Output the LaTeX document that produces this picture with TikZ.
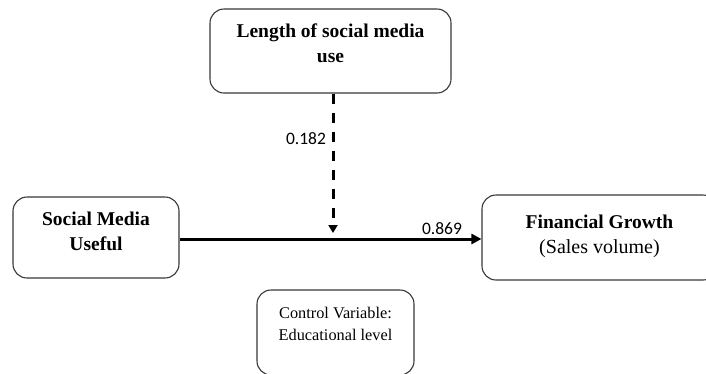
\documentclass[tikz,border=0pt]{standalone}
\usepackage{fontspec}
\setmainfont{Liberation Serif}
\newfontfamily\calib{Carlito}
\usetikzlibrary{arrows.meta}

\tikzset{
  varbox/.style={draw=black!78, line width=1.1pt, rounded corners=14pt,
    inner sep=0pt, fill=white},
  boxtext/.style={inner sep=0pt, anchor=north, align=center,
    font=\fontsize{19.5}{25.5}\selectfont\bfseries},
  smalltext/.style={inner sep=0pt, anchor=north, align=center,
    font=\fontsize{16.3}{22}\selectfont},
  coef/.style={inner sep=0pt, font=\calib\fontsize{17.5}{20}\selectfont},
  mainarrow/.style={line width=3pt, -{Triangle[length=10pt,width=10pt]}},
  modarrow/.style={line width=3pt, dash pattern=on 10pt off 9pt,
    -{Triangle[length=8pt,width=9pt]}}
}

\begin{document}
\begin{tikzpicture}[x=1pt, y=-1pt]
  \useasboundingbox (0,0) rectangle (706,373);
  \clip (0,0) rectangle (706,373);

  % variable boxes
  \node[varbox, minimum width=241pt, minimum height=84pt] (len) at (330.5,51) {};
  \node[varbox, minimum width=166pt, minimum height=81pt] (soc) at (96,237.5) {};
  \node[varbox, minimum width=235pt, minimum height=85pt] (fin) at (599.5,237.5) {};
  \node[varbox, minimum width=157pt, minimum height=85pt] (ctrl) at (335.5,332.5) {};

  % box captions
  \node[boxtext] (lentext) at (330.5,23.5) {Length of social media\\use};
  \node[boxtext] (soctext) at (96,211.5) {Social Media\\Useful};
  \node[boxtext] (fintext) at (599.5,214.5) {Financial Growth\\{\mdseries\fontsize{20}{25}\selectfont (Sales volume)}};
  \node[smalltext] (ctrltext) at (335.5,307) {Control Variable:\\Educational level};

  % paths
  \coordinate (modend) at (333,233);
  \draw[mainarrow] ([yshift=-1.5pt]soc.east) -- ([yshift=-1.5pt]fin.west);
  \draw[modarrow] (len.south -| modend) -- (modend);

  % path coefficients
  \node[coef] (c182) at (306,139) {0.182};
  \node[coef] (c869) at (442,229) {0.869};
\end{tikzpicture}
\end{document}
